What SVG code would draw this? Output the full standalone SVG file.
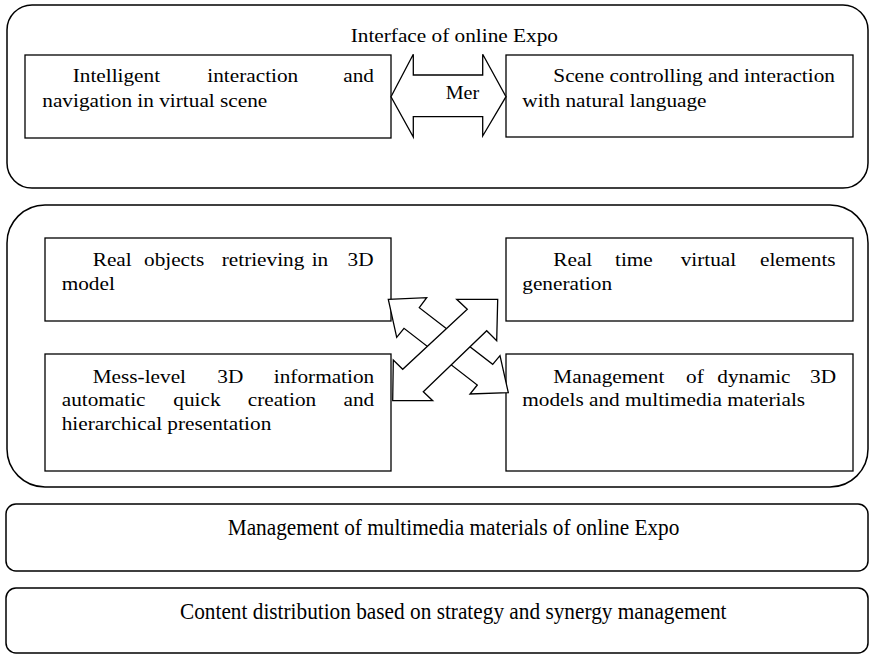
<svg xmlns="http://www.w3.org/2000/svg" width="869" height="654" viewBox="0 0 869 654">
<style>
  .cont { fill: #fff; stroke: #000; stroke-width: 1.5; }
  .box { fill: #fff; stroke: #000; stroke-width: 1.3; }
  .arrow { fill: #fff; stroke: #000; stroke-width: 1.3; stroke-linejoin: miter; }
  text { font-family: "Liberation Serif", "Times New Roman", serif; font-size: 19px; fill: #000; }
  text.big { font-size: 23px; }
</style>
<rect width="869" height="654" fill="#fff"/>

<g id="interface-layer">
  <rect class="cont" x="7" y="5" width="861" height="183" rx="25" ry="25"/>
  <text transform="translate(350.7 41.5) scale(1.12 1)">Interface of online Expo</text>
</g>

<g id="core-layer">
  <rect class="cont" x="7" y="205" width="861" height="282" rx="38" ry="38"/>
</g>

<g id="node-intelligent">
  <rect class="box" x="25" y="55" width="366" height="83"/>
  <text transform="translate(72.7 82) scale(1.12 1)">Intelligent</text>
  <text transform="translate(207.3 82) scale(1.12 1)">interaction</text>
  <text transform="translate(343.3 82) scale(1.12 1)">and</text>
  <text transform="translate(42.3 106.5) scale(1.12 1)">navigation in virtual scene</text>
</g>

<g id="node-scene">
  <rect class="box" x="506" y="55" width="347" height="82"/>
  <text transform="translate(553.3 82) scale(1.12 1)">Scene controlling and interaction</text>
  <text transform="translate(522.3 106.5) scale(1.12 1)">with natural language</text>
</g>

<g id="node-real-objects">
  <rect class="box" x="45" y="238" width="346" height="83"/>
  <text transform="translate(92.7 265.5) scale(1.12 1)">Real</text>
  <text transform="translate(144 265.5) scale(1.12 1)">objects</text>
  <text transform="translate(221.7 265.5) scale(1.12 1)">retrieving</text>
  <text transform="translate(311.7 265.5) scale(1.12 1)">in</text>
  <text transform="translate(347.5 265.5) scale(1.12 1)">3D</text>
  <text transform="translate(61.7 290) scale(1.12 1)">model</text>
</g>

<g id="node-mess-level">
  <rect class="box" x="45" y="354" width="346" height="117"/>
  <text transform="translate(92.7 382.5) scale(1.12 1)">Mess-level</text>
  <text transform="translate(217.3 382.5) scale(1.12 1)">3D</text>
  <text transform="translate(273.8 382.5) scale(1.12 1)">information</text>
  <text transform="translate(61.7 406) scale(1.12 1)">automatic</text>
  <text transform="translate(173.3 406) scale(1.12 1)">quick</text>
  <text transform="translate(247.7 406) scale(1.12 1)">creation</text>
  <text transform="translate(343.5 406) scale(1.12 1)">and</text>
  <text transform="translate(61.7 429.5) scale(1.12 1)">hierarchical presentation</text>
</g>

<g id="node-real-time">
  <rect class="box" x="506" y="238" width="347" height="83"/>
  <text transform="translate(553.3 265.5) scale(1.12 1)">Real</text>
  <text transform="translate(615 265.5) scale(1.12 1)">time</text>
  <text transform="translate(680.7 265.5) scale(1.12 1)">virtual</text>
  <text transform="translate(760 265.5) scale(1.12 1)">elements</text>
  <text transform="translate(522.3 290) scale(1.12 1)">generation</text>
</g>

<g id="node-dynamic">
  <rect class="box" x="506" y="354" width="347" height="117"/>
  <text transform="translate(553.3 382.5) scale(1.12 1)">Management</text>
  <text transform="translate(686 382.5) scale(1.12 1)">of</text>
  <text transform="translate(717.3 382.5) scale(1.12 1)">dynamic</text>
  <text transform="translate(810 382.5) scale(1.12 1)">3D</text>
  <text transform="translate(522.3 406) scale(1.12 1)">models and multimedia materials</text>
</g>

<g id="node-multimedia">
  <rect class="cont" x="6" y="504" width="862" height="67" rx="10" ry="10"/>
  <text class="big" transform="translate(227.7 535) scale(0.926 1)">Management of multimedia materials of online Expo</text>
</g>

<g id="node-distribution">
  <rect class="cont" x="6" y="588" width="862" height="65" rx="10" ry="10"/>
  <text class="big" transform="translate(180 618.5) scale(0.926 1)">Content distribution based on strategy and synergy management</text>
</g>

<g id="connectors">
  <polygon class="arrow" points="391,96.7 413.3,54.3 413.3,75 482.7,75 482.7,54.3 506,96.7 482.7,136 482.7,116.7 413.3,116.7 413.3,137"/>
  <text transform="translate(445.7 99) scale(1.06 1)">Mer</text>
  <polygon class="arrow" points="388.3,299.3 426.7,297.7 419.3,307.7 492.7,364.3 500,355.7 508.3,392.7 470,394 477.3,385 404,328.3 396.7,337.3"/>
  <polygon class="arrow" points="497.7,299.3 496.7,340.7 486.7,330.7 423.3,391.7 432.7,400.7 392.7,400.7 393.3,360 402.7,369.3 467.3,309.3 456.7,299.3"/>
</g>
</svg>
